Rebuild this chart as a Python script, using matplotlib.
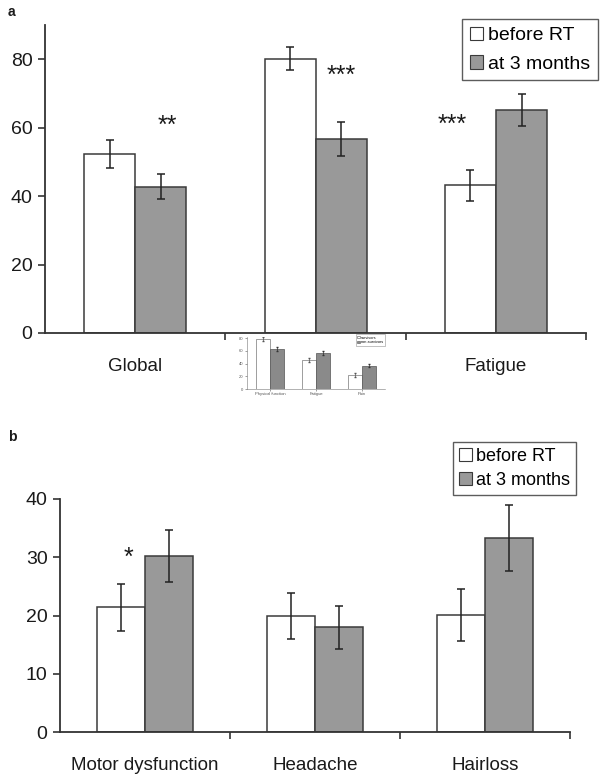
import numpy as np
import matplotlib
matplotlib.use("Agg")
import matplotlib.pyplot as plt
from matplotlib.patches import Patch

plt.rcParams['font.family'] = ['Liberation Sans', 'DejaVu Sans']

# panel a: QoL scales (middle label is covered by a small pasted chart)
labels_a = ["Global", "", "Fatigue"]
before_a = [52.3, 80.2, 43.1]
before_a_err = [3.95, 3.4, 4.65]
after_a = [42.8, 56.7, 65.1]
after_a_err = [3.55, 5.0, 4.7]
stars_a = ["**", "***", "***"]
star_x_a = [0.18, 1.14, 1.76]
star_y_a = [60.5, 75.0, 60.8]

# panel b: symptoms
labels_b = ["Motor dysfunction", "Headache", "Hairloss"]
before_b = [21.4, 19.9, 20.1]
before_b_err = [4.0, 3.95, 4.45]
after_b = [30.2, 18.0, 33.3]
after_b_err = [4.45, 3.7, 5.65]

# tiny pasted chart under panel a
inset_labels = ["Physical function", "Fatigue", "Pain"]
inset_before = [79, 46, 22]
inset_after = [63, 57, 37]
inset_err = [3, 3, 3]

legend_names = ["before RT", "at 3 months"]
gray = "#999999"
edge = "#3a3a3a"
txt = "#1a1a1a"

fig = plt.figure(figsize=(6, 7.76), dpi=100)


def draw_panel(ax, labels, before, b_err, after, a_err, ymax, ystep, width):
    x = np.arange(len(labels))
    ax.bar(x - width / 2, before, width, color="white", edgecolor=edge, linewidth=1.1,
           yerr=b_err, error_kw=dict(ecolor="#222222", elinewidth=1.1, capsize=3, capthick=1.1))
    ax.bar(x + width / 2, after, width, color=gray, edgecolor=edge, linewidth=1.1,
           yerr=a_err, error_kw=dict(ecolor="#222222", elinewidth=1.1, capsize=3, capthick=1.1))
    ax.set_xlim(-0.5, len(labels) - 0.5)
    ax.set_ylim(0, ymax)
    ax.set_yticks(np.arange(0, ymax + 1, ystep))
    ax.set_xticks(x)
    ax.set_xticklabels(labels, fontsize=13.5, color=txt)
    ax.set_xticks(np.arange(len(labels)) + 0.5, minor=True)
    ax.tick_params(axis='x', which='major', length=0, pad=18)
    ax.tick_params(axis='x', which='minor', length=5, width=1.2, color="#333333", direction='out')
    ax.tick_params(axis='y', length=5, width=1.2, color="#333333", labelsize=14, labelcolor=txt, pad=4)
    for s in ['top', 'right']:
        ax.spines[s].set_visible(False)
    for s in ['left', 'bottom']:
        ax.spines[s].set_color("#333333")
        ax.spines[s].set_linewidth(1.3)
    handles = [Patch(facecolor="white", edgecolor=edge, linewidth=0.8),
               Patch(facecolor=gray, edgecolor=edge, linewidth=0.8)]
    return handles


# panel a
ax1 = fig.add_axes([0.075, 0.5709, 0.902, 0.3969])
h = draw_panel(ax1, labels_a, before_a, before_a_err, after_a, after_a_err, 90, 20, 0.283)
ax1.set_yticks([0, 20, 40, 60, 80])
for s, sx, sy in zip(stars_a, star_x_a, star_y_a):
    ax1.text(sx, sy, s, ha='center', va='center', fontsize=18, color=txt)
leg = ax1.legend(h, legend_names, loc='upper left', bbox_to_anchor=(0.77, 1.02),
                 fontsize=14, frameon=True, fancybox=False, handlelength=0.7,
                 handleheight=0.7, handletextpad=0.25, borderpad=0.4, labelspacing=0.55,
                 borderaxespad=0)
leg.get_frame().set_edgecolor("#333333")
leg.get_frame().set_linewidth(1.0)
fig.text(0.013, 0.985, "a", fontsize=10, fontweight='bold', va='center', color=txt)

# panel b
ax2 = fig.add_axes([0.1, 0.0563, 0.85, 0.301])
h = draw_panel(ax2, labels_b, before_b, before_b_err, after_b, after_b_err, 40, 10, 0.285)
ax2.text(-0.1, 29.8, "*", ha='center', va='center', fontsize=18, color=txt)
leg = ax2.legend(h, legend_names, loc='upper left', bbox_to_anchor=(0.77, 1.245),
                 fontsize=13, frameon=True, fancybox=False, handlelength=0.7,
                 handleheight=0.7, handletextpad=0.25, borderpad=0.35, labelspacing=0.4,
                 borderaxespad=0)
leg.get_frame().set_edgecolor("#333333")
leg.get_frame().set_linewidth(1.0)
fig.text(0.013, 0.437, "b", fontsize=10, fontweight='bold', va='center', color=txt)

# small pasted chart in place of the middle category label
ax3 = fig.add_axes([0.4117, 0.4987, 0.23, 0.067])
xi = np.arange(len(inset_labels))
ax3.bar(xi - 0.15, inset_before, 0.3, color="white", edgecolor="#777777", linewidth=0.5,
        yerr=inset_err, error_kw=dict(ecolor="#555555", elinewidth=0.5, capsize=1))
ax3.bar(xi + 0.15, inset_after, 0.3, color="#8a8a8a", edgecolor="#555555", linewidth=0.5,
        yerr=inset_err, error_kw=dict(ecolor="#333333", elinewidth=0.5, capsize=1))
ax3.set_xlim(-0.5, len(inset_labels) - 0.5)
ax3.set_ylim(0, 82)
ax3.set_yticks([0, 20, 40, 60, 80])
ax3.set_xticks(xi)
ax3.set_xticklabels(inset_labels, fontsize=3, color="#333333")
ax3.tick_params(axis='both', length=1.5, width=0.4, labelsize=3, pad=1, colors="#555555")
for s in ['top', 'right']:
    ax3.spines[s].set_visible(False)
for s in ['left', 'bottom']:
    ax3.spines[s].set_linewidth(0.4)
    ax3.spines[s].set_color("#777777")
hi = [Patch(facecolor="white", edgecolor="#555555", linewidth=0.4),
      Patch(facecolor="#8a8a8a", edgecolor="#555555", linewidth=0.4)]
li = ax3.legend(hi, ["survivors", "non-survivors"], loc='upper right', bbox_to_anchor=(1.0, 1.05),
                fontsize=2.8, fancybox=False, handlelength=0.6, handleheight=0.6,
                handletextpad=0.2, borderpad=0.3, labelspacing=0.2, borderaxespad=0)
li.get_frame().set_linewidth(0.4)
li.get_frame().set_edgecolor("#777777")

fig.savefig("out.png", dpi=100)
